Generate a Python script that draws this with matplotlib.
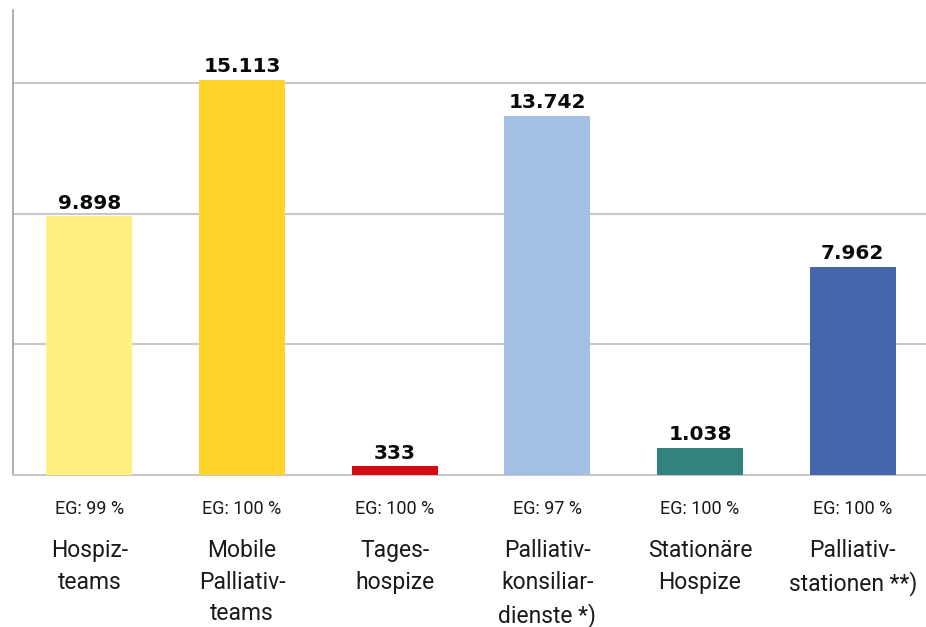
import matplotlib
matplotlib.use("Agg")
import matplotlib.pyplot as plt
import matplotlib.transforms as mtransforms

plt.rcParams['font.family'] = ['Roboto', 'DejaVu Sans']

categories = ["Hospiz-\nteams", "Mobile\nPalliativ-\nteams", "Tages-\nhospize",
              "Palliativ-\nkonsiliar-\ndienste *)", "Stationäre\nHospize",
              "Palliativ-\nstationen **)"]
values = [9898, 15113, 333, 13742, 1038, 7962]
value_labels = ["9.898", "15.113", "333", "13.742", "1.038", "7.962"]
eg_labels = ["EG: 99 %", "EG: 100 %", "EG: 100 %", "EG: 97 %", "EG: 100 %", "EG: 100 %"]
colors = ["#FFF07F", "#FFD42A", "#D40A14", "#A3BFE3", "#32827D", "#4565AD"]

fig = plt.figure(figsize=(9.26, 6.27), dpi=100)
ax = fig.add_axes([13 / 926, 1 - 475 / 627, (926 - 13) / 926, (475 - 10) / 627])

x = list(range(len(values)))
ax.bar(x, values, width=0.563, color=colors, zorder=3)

ax.set_xlim(-0.5, 5.48)
ax.set_ylim(0, 17790)
ax.set_yticks([5000, 10000, 15000])
ax.yaxis.grid(True, color="#c8c8c8", linewidth=1.5, zorder=0)
ax.tick_params(left=False, bottom=False, labelleft=False, labelbottom=False)

for side in ("top", "right"):
    ax.spines[side].set_visible(False)
ax.spines["left"].set_color("#a0a0a0")
ax.spines["left"].set_linewidth(1.2)
ax.spines["bottom"].set_color("#c8c8c8")
ax.spines["bottom"].set_linewidth(1.5)

for xi, v, lab in zip(x, values, value_labels):
    ax.annotate(lab, (xi, v), xytext=(0, 2.5), textcoords="offset points",
                ha="center", va="bottom", fontsize=14.5, fontweight="bold",
                family=["DejaVu Sans"], color="#0a0a0a")

trans = mtransforms.blended_transform_factory(ax.transData, fig.transFigure)
for xi, eg, cat in zip(x, eg_labels, categories):
    ax.text(xi, 1 - 509 / 627, eg, transform=trans, ha="center", va="center",
            fontsize=13, color="#1a1a1a")
    ax.text(xi, 1 - 539 / 627, cat, transform=trans, ha="center", va="top",
            fontsize=16.5, color="#1a1a1a", linespacing=1.48)

fig.savefig("out.png", dpi=100)
